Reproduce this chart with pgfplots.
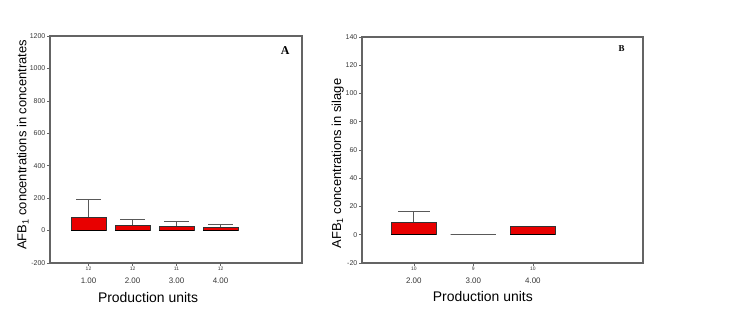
\documentclass[border=0pt]{standalone}
\usepackage{pgfplots}
\pgfplotsset{compat=1.18}
\usepgfplotslibrary{statistics}
\usepackage{fontspec}
\setmainfont{Liberation Sans}
\newfontfamily\serifb{Liberation Serif}
\definecolor{boxred}{RGB}{232,0,0}
\definecolor{framegray}{RGB}{100,100,100}
\definecolor{ticktxt}{RGB}{55,55,55}
\pgfplotsset{
  spssbox/.style={
    scale only axis,
    axis line style={framegray, line width=1.1pt},
    tick style={framegray, line width=0.6pt},
    tick align=outside,
    major tick length=3bp,
    xtick pos=bottom, ytick pos=left,
    /pgf/number format/assume math mode=true,
    /pgf/number format/1000 sep={},
    yticklabel style={font=\fontsize{7}{8}\selectfont, text=ticktxt, inner sep=1.5pt},
    xticklabel style={font=\fontsize{8}{8}\selectfont, text=ticktxt, align=center, inner sep=1pt},
    ylabel style={font=\fontsize{13}{13}\selectfont},
    xlabel style={font=\fontsize{14}{14}\selectfont},
    boxplot/every box/.style={draw=black!80, line width=0.7pt, fill=boxred},
    boxplot/every median/.style={draw=black, line width=1.3pt},
    boxplot/every whisker/.style={draw=black!65, line width=0.9pt},
    boxplot/draw direction=y,
  },
}
\begin{document}
\begin{tikzpicture}
\path[use as bounding box] (0,0) rectangle (729bp,319bp);
% Panel A
\begin{axis}[spssbox,
  at={(50bp,56bp)}, anchor=south west,
  width=252bp, height=227bp,
  xmin=0.125, xmax=5.85,
  ymin=-200, ymax=1200,
  ytick={-200,0,200,400,600,800,1000,1200},
  xtick={1,2,3,4},
  xticklabels={{\fontsize{5}{5}\selectfont 12\\[5pt]1.00},{\fontsize{5}{5}\selectfont 12\\[5pt]2.00},{\fontsize{5}{5}\selectfont 11\\[5pt]3.00},{\fontsize{5}{5}\selectfont 12\\[5pt]4.00}},
  xlabel={Production units},
  xlabel style={at={(axis description cs:0.389,-0.15)}, anchor=center},
  ylabel={AFB\textsubscript{1} concentrations in concentrates},
  ylabel style={at={(axis description cs:-0.108,0.52)}, anchor=center},
  ]
\addplot+[no marks, boxplot prepared={draw position=1, lower whisker=0, lower quartile=0, median=0, upper quartile=82, upper whisker=190, box extend=0.8, whisker extend=0.55}] coordinates {};
\addplot+[no marks, boxplot prepared={draw position=2, lower whisker=0, lower quartile=0, median=0, upper quartile=33, upper whisker=66, box extend=0.8, whisker extend=0.55}] coordinates {};
\addplot+[no marks, boxplot prepared={draw position=3, lower whisker=0, lower quartile=0, median=0, upper quartile=25, upper whisker=54, box extend=0.8, whisker extend=0.55}] coordinates {};
\addplot+[no marks, boxplot prepared={draw position=4, lower whisker=0, lower quartile=0, median=0, upper quartile=20, upper whisker=35, box extend=0.8, whisker extend=0.55}] coordinates {};
\node[font=\serifb\bfseries\fontsize{12}{12}\selectfont] at (axis description cs:0.933,0.938) {A};
\end{axis}
% Panel B
\begin{axis}[spssbox,
  at={(362bp,56bp)}, anchor=south west,
  width=281bp, height=226bp,
  xmin=1.13, xmax=5.85,
  ymin=-20, ymax=140,
  ytick={-20,0,20,40,60,80,100,120,140},
  xtick={2,3,4},
  xticklabels={{\fontsize{5}{5}\selectfont 10\\[5pt]2.00},{\fontsize{5}{5}\selectfont 9\\[5pt]3.00},{\fontsize{5}{5}\selectfont 10\\[5pt]4.00}},
  xlabel={Production units},
  xlabel style={at={(axis description cs:0.43,-0.15)}, anchor=center},
  ylabel={AFB\textsubscript{1} concentrations in silage},
  ylabel style={at={(axis description cs:-0.0865,0.44)}, anchor=center},
  ]
\addplot+[no marks, boxplot prepared={draw position=2, lower whisker=0, lower quartile=0, median=0, upper quartile=9, upper whisker=16.5, box extend=0.76, whisker extend=0.53}] coordinates {};
\addplot+[no marks, boxplot prepared={draw position=3, lower whisker=0, lower quartile=0, median=0, upper quartile=0, upper whisker=0, box extend=0.76, whisker extend=0.53}, boxplot/every median/.style={draw=black!65, line width=1.1pt}, boxplot/every box/.style={draw=black!65, line width=0.8pt}] coordinates {};
\addplot+[no marks, boxplot prepared={draw position=4, lower whisker=0, lower quartile=0, median=0, upper quartile=5.9, upper whisker=5.9, box extend=0.76, whisker extend=0.53}] coordinates {};
\node[font=\serifb\bfseries\fontsize{9}{9}\selectfont] at (axis description cs:0.924,0.948) {B};
\end{axis}
\end{tikzpicture}
\end{document}
